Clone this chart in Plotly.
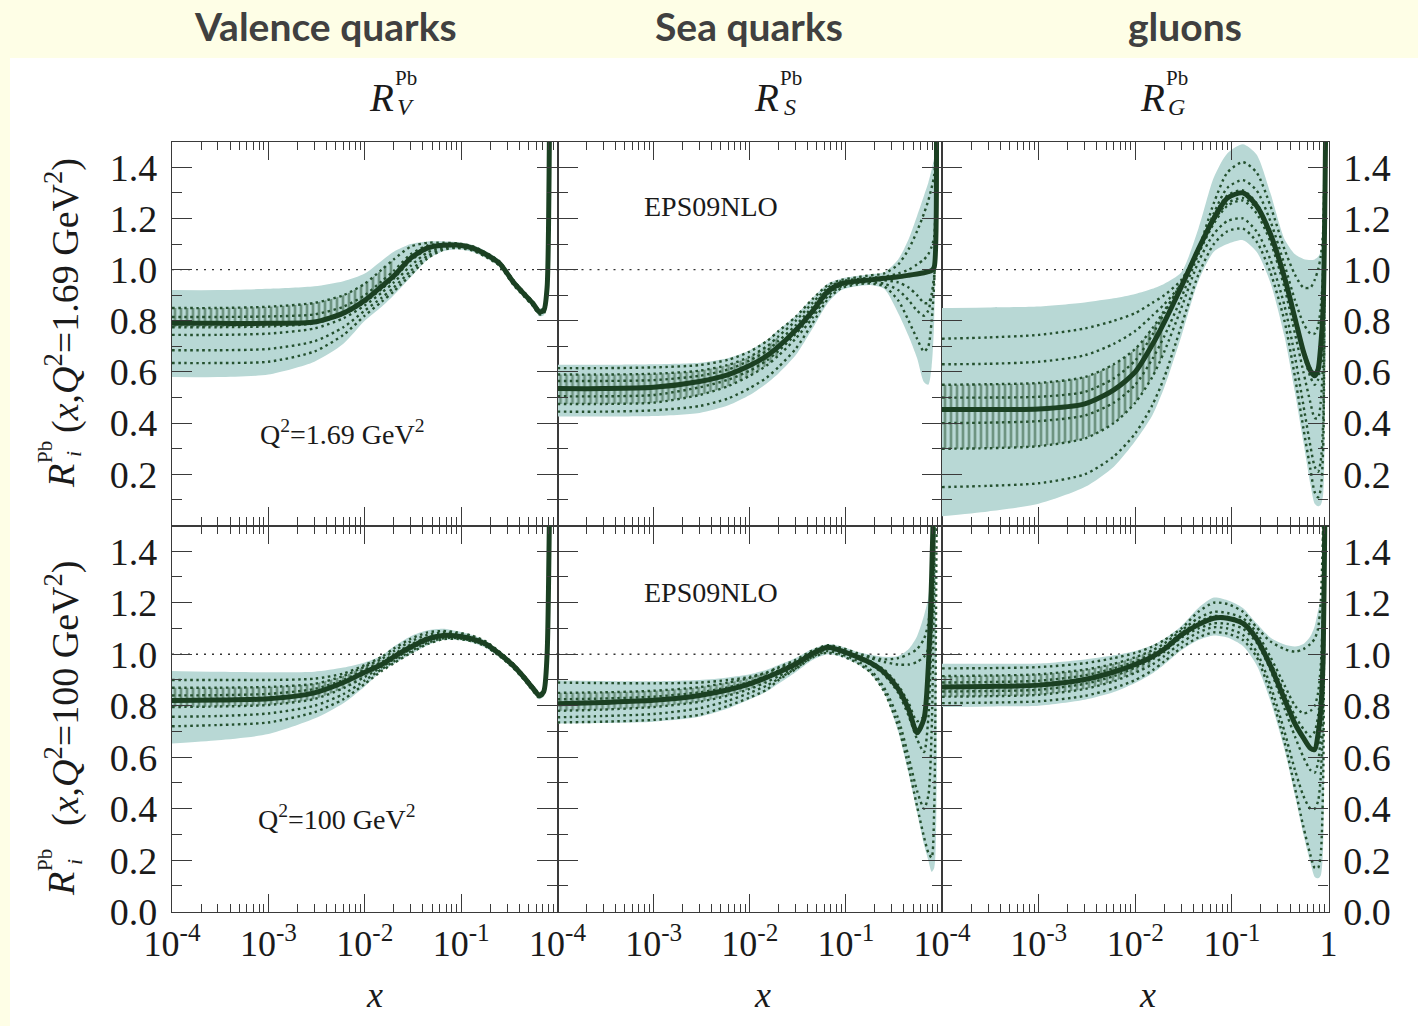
import plotly.graph_objects as go

W, H = 1418, 1026

# Sampling nodes in x (log spaced, denser toward x -> 1)
x_nodes = [1e-4, 3e-4, 1e-3, 3e-3, 6e-3, 0.01, 0.015, 0.02, 0.03, 0.045, 0.065, 0.09,
           0.13, 0.18, 0.25, 0.35, 0.45, 0.55, 0.65, 0.72, 0.78, 0.83, 0.88, 0.92, 0.96]

# ---------------- Valence quarks, Q^2 = 1.69 GeV^2 ----------------
val_low_central = [0.79, 0.79, 0.79, 0.795, 0.83, 0.88, 0.935, 0.975, 1.045, 1.085, 1.095, 1.096,
                   1.085, 1.06, 1.025, 0.95, 0.905, 0.87, 0.835, 0.84, 0.93, 1.6, 2, 2, 2]
val_low_upper = [0.92, 0.92, 0.925, 0.935, 0.955, 0.985, 1.035, 1.07, 1.10, 1.11, 1.11, 1.108,
                 1.097, 1.073, 1.037, 0.965, 0.915, 0.88, 0.848, 0.855, 0.96, 1.6, 2, 2, 2]
val_low_lower = [0.58, 0.58, 0.59, 0.64, 0.71, 0.80, 0.855, 0.90, 0.97, 1.04, 1.072, 1.08,
                 1.07, 1.045, 1.01, 0.935, 0.89, 0.855, 0.818, 0.822, 0.89, 1.6, 2, 2, 2]
val_low_sets = [
    [0.635, 0.635, 0.64, 0.68, 0.745, 0.82, 0.875, 0.915, 0.98, 1.045, 1.077, 1.085, 1.075, 1.05, 1.015, 0.94, 0.895, 0.86, 0.825, 0.828, 0.9, 1.6, 2, 2, 2],
    [0.685, 0.685, 0.69, 0.72, 0.775, 0.84, 0.89, 0.93, 0.995, 1.055, 1.082, 1.088, 1.078, 1.053, 1.018, 0.943, 0.898, 0.863, 0.828, 0.832, 0.91, 1.6, 2, 2, 2],
    [0.745, 0.745, 0.75, 0.77, 0.81, 0.86, 0.91, 0.95, 1.015, 1.068, 1.088, 1.092, 1.081, 1.056, 1.021, 0.946, 0.901, 0.866, 0.831, 0.836, 0.92, 1.6, 2, 2, 2],
    [0.775, 0.775, 0.778, 0.79, 0.825, 0.872, 0.925, 0.965, 1.035, 1.08, 1.093, 1.095, 1.084, 1.059, 1.024, 0.949, 0.904, 0.869, 0.834, 0.839, 0.93, 1.6, 2, 2, 2],
    [0.815, 0.815, 0.817, 0.825, 0.855, 0.9, 0.955, 0.995, 1.06, 1.095, 1.1, 1.099, 1.088, 1.063, 1.028, 0.953, 0.908, 0.873, 0.838, 0.843, 0.94, 1.6, 2, 2, 2],
    [0.85, 0.85, 0.855, 0.87, 0.9, 0.945, 1.0, 1.04, 1.09, 1.105, 1.105, 1.103, 1.092, 1.067, 1.032, 0.958, 0.912, 0.877, 0.842, 0.848, 0.95, 1.6, 2, 2, 2],
]

# ---------------- Sea quarks, Q^2 = 1.69 GeV^2 ----------------
sea_low_central = [0.535, 0.535, 0.54, 0.563, 0.59, 0.625, 0.663, 0.70, 0.763, 0.838, 0.915, 0.945,
                   0.955, 0.96, 0.966, 0.972, 0.978, 0.983, 0.988, 0.992, 0.997, 1.01, 1.6, 2, 2]
sea_low_upper = [0.628, 0.628, 0.63, 0.636, 0.655, 0.685, 0.725, 0.765, 0.82, 0.89, 0.945, 0.965,
                 0.975, 0.982, 0.99, 1.04, 1.12, 1.21, 1.29, 1.34, 1.39, 1.44, 1.6, 2, 2]
sea_low_lower = [0.426, 0.426, 0.428, 0.44, 0.47, 0.51, 0.555, 0.595, 0.665, 0.77, 0.87, 0.92,
                 0.935, 0.94, 0.925, 0.83, 0.74, 0.655, 0.56, 0.55, 0.62, 0.8, 1.6, 2, 2]
sea_low_sets = [
    [0.615, 0.615, 0.618, 0.627, 0.648, 0.68, 0.72, 0.76, 0.815, 0.885, 0.94, 0.96, 0.97, 0.978, 0.985, 1.02, 1.08, 1.15, 1.22, 1.27, 1.32, 1.37, 1.6, 2, 2],
    [0.59, 0.59, 0.593, 0.605, 0.628, 0.66, 0.70, 0.74, 0.80, 0.87, 0.93, 0.955, 0.963, 0.968, 0.972, 0.985, 1.0, 1.02, 1.04, 1.06, 1.09, 1.13, 1.6, 2, 2],
    [0.565, 0.565, 0.568, 0.585, 0.61, 0.645, 0.683, 0.722, 0.782, 0.855, 0.922, 0.95, 0.958, 0.962, 0.968, 0.974, 0.98, 0.985, 0.99, 0.994, 0.999, 1.01, 1.6, 2, 2],
    [0.505, 0.505, 0.51, 0.54, 0.57, 0.605, 0.645, 0.683, 0.748, 0.825, 0.905, 0.94, 0.952, 0.957, 0.958, 0.95, 0.93, 0.9, 0.87, 0.87, 0.9, 0.97, 1.6, 2, 2],
    [0.475, 0.475, 0.48, 0.51, 0.545, 0.585, 0.625, 0.665, 0.73, 0.812, 0.897, 0.935, 0.948, 0.952, 0.945, 0.92, 0.88, 0.84, 0.82, 0.84, 0.9, 0.98, 1.6, 2, 2],
    [0.445, 0.445, 0.45, 0.467, 0.497, 0.537, 0.578, 0.62, 0.69, 0.79, 0.885, 0.928, 0.942, 0.946, 0.935, 0.88, 0.8, 0.73, 0.68, 0.7, 0.8, 0.95, 1.6, 2, 2],
]

# ---------------- Gluons, Q^2 = 1.69 GeV^2 ----------------
glu_low_central = [0.453, 0.453, 0.455, 0.475, 0.53, 0.60, 0.706, 0.795, 0.933, 1.08, 1.2, 1.28,
                   1.30, 1.25, 1.14, 0.97, 0.81, 0.68, 0.605, 0.585, 0.61, 0.70, 0.85, 1.3, 2]
glu_low_upper = [0.85, 0.852, 0.856, 0.872, 0.888, 0.905, 0.925, 0.945, 0.99, 1.16, 1.36, 1.455,
                 1.49, 1.45, 1.3, 1.12, 1.06, 1.042, 1.038, 1.04, 1.05, 1.07, 1.2, 1.6, 2]
glu_low_lower = [0.036, 0.055, 0.085, 0.15, 0.23, 0.33, 0.43, 0.54, 0.74, 0.955, 1.07, 1.1,
                 1.115, 1.07, 0.95, 0.74, 0.52, 0.325, 0.16, 0.085, 0.075, 0.08, 0.12, 0.5, 2]
glu_low_sets = [
    [0.73, 0.735, 0.745, 0.77, 0.8, 0.83, 0.87, 0.9, 0.96, 1.08, 1.26, 1.38, 1.42, 1.38, 1.25, 1.08, 0.98, 0.93, 0.93, 0.96, 1.0, 1.05, 1.15, 1.6, 2],
    [0.63, 0.632, 0.64, 0.665, 0.71, 0.76, 0.82, 0.865, 0.945, 1.07, 1.22, 1.32, 1.35, 1.31, 1.19, 1.02, 0.88, 0.79, 0.75, 0.75, 0.78, 0.85, 1.0, 1.6, 2],
    [0.55, 0.552, 0.557, 0.58, 0.63, 0.69, 0.77, 0.84, 0.94, 1.075, 1.19, 1.26, 1.28, 1.24, 1.13, 0.96, 0.8, 0.67, 0.58, 0.55, 0.57, 0.65, 0.8, 1.5, 2],
    [0.5, 0.5, 0.503, 0.522, 0.575, 0.645, 0.745, 0.83, 0.95, 1.085, 1.21, 1.29, 1.31, 1.26, 1.15, 0.98, 0.82, 0.69, 0.615, 0.595, 0.62, 0.71, 0.86, 1.3, 2],
    [0.4, 0.402, 0.408, 0.43, 0.48, 0.55, 0.65, 0.74, 0.89, 1.06, 1.18, 1.25, 1.27, 1.22, 1.11, 0.93, 0.75, 0.6, 0.48, 0.42, 0.42, 0.48, 0.65, 1.4, 2],
    [0.3, 0.302, 0.31, 0.34, 0.4, 0.48, 0.58, 0.68, 0.85, 1.03, 1.14, 1.19, 1.2, 1.15, 1.04, 0.86, 0.66, 0.47, 0.31, 0.23, 0.21, 0.25, 0.4, 1.3, 2],
    [0.15, 0.155, 0.165, 0.2, 0.27, 0.36, 0.47, 0.58, 0.78, 0.98, 1.1, 1.15, 1.16, 1.11, 0.99, 0.8, 0.58, 0.38, 0.22, 0.13, 0.11, 0.14, 0.3, 1.2, 2],
]

# ---------------- Valence quarks, Q^2 = 100 GeV^2 ----------------
val_high_central = [0.82, 0.822, 0.827, 0.85, 0.89, 0.93, 0.96, 0.99, 1.028, 1.06, 1.073, 1.071,
                    1.06, 1.04, 1.002, 0.955, 0.91, 0.87, 0.84, 0.855, 1.0, 1.6, 2, 2, 2]
val_high_upper = [0.935, 0.932, 0.93, 0.932, 0.948, 0.968, 0.995, 1.03, 1.07, 1.093, 1.099, 1.09,
                  1.075, 1.053, 1.013, 0.965, 0.92, 0.88, 0.85, 0.866, 1.01, 1.6, 2, 2, 2]
val_high_lower = [0.653, 0.666, 0.69, 0.75, 0.81, 0.875, 0.935, 0.962, 1.0, 1.035, 1.055, 1.056,
                  1.045, 1.025, 0.988, 0.94, 0.895, 0.855, 0.825, 0.84, 0.98, 1.6, 2, 2, 2]
val_high_sets = [
    [0.72, 0.725, 0.735, 0.775, 0.825, 0.885, 0.935, 0.965, 1.005, 1.04, 1.058, 1.06, 1.05, 1.03, 0.993, 0.945, 0.9, 0.86, 0.83, 0.845, 0.99, 1.6, 2, 2, 2],
    [0.757, 0.76, 0.77, 0.8, 0.845, 0.898, 0.942, 0.972, 1.012, 1.045, 1.062, 1.063, 1.053, 1.034, 0.996, 0.948, 0.903, 0.863, 0.833, 0.848, 0.99, 1.6, 2, 2, 2],
    [0.795, 0.797, 0.803, 0.826, 0.868, 0.912, 0.95, 0.98, 1.02, 1.052, 1.067, 1.067, 1.057, 1.037, 0.999, 0.951, 0.906, 0.866, 0.836, 0.851, 0.995, 1.6, 2, 2, 2],
    [0.84, 0.841, 0.846, 0.865, 0.9, 0.94, 0.97, 1.0, 1.038, 1.065, 1.075, 1.073, 1.062, 1.042, 1.004, 0.956, 0.911, 0.871, 0.841, 0.856, 1.0, 1.6, 2, 2, 2],
    [0.87, 0.87, 0.873, 0.885, 0.915, 0.952, 0.982, 1.012, 1.05, 1.075, 1.085, 1.08, 1.068, 1.047, 1.008, 0.96, 0.915, 0.875, 0.845, 0.86, 1.0, 1.6, 2, 2, 2],
    [0.9, 0.9, 0.9, 0.905, 0.925, 0.958, 0.99, 1.022, 1.06, 1.085, 1.09, 1.085, 1.072, 1.05, 1.01, 0.962, 0.917, 0.877, 0.847, 0.862, 1.005, 1.6, 2, 2, 2],
]

# ---------------- Sea quarks, Q^2 = 100 GeV^2 ----------------
sea_high_central = [0.808, 0.813, 0.821, 0.84, 0.862, 0.885, 0.91, 0.93, 0.962, 1.003, 1.027, 1.013,
                    0.99, 0.967, 0.93, 0.865, 0.785, 0.695, 0.75, 0.95, 1.3, 1.7, 2, 2, 2]
sea_high_upper = [0.899, 0.896, 0.895, 0.9, 0.91, 0.922, 0.94, 0.958, 0.985, 1.02, 1.04, 1.03,
                  1.01, 0.998, 0.99, 0.993, 1.02, 1.07, 1.15, 1.22, 1.35, 1.5, 2, 2, 2]
sea_high_lower = [0.731, 0.733, 0.738, 0.757, 0.79, 0.825, 0.855, 0.886, 0.93, 0.978, 1.0, 0.99,
                  0.963, 0.925, 0.85, 0.7, 0.535, 0.384, 0.26, 0.2, 0.155, 0.17, 0.5, 2, 2]
sea_high_sets = [
    [0.89, 0.888, 0.887, 0.89, 0.9, 0.912, 0.93, 0.95, 0.978, 1.015, 1.035, 1.025, 1.005, 0.99, 0.98, 0.985, 1.0, 1.02, 1.06, 1.12, 1.25, 1.5, 2, 2, 2],
    [0.85, 0.852, 0.858, 0.872, 0.89, 0.908, 0.928, 0.946, 0.972, 1.01, 1.03, 1.02, 1.0, 0.985, 0.97, 0.96, 0.96, 0.97, 0.99, 1.02, 1.1, 1.4, 2, 2, 2],
    [0.825, 0.828, 0.835, 0.852, 0.872, 0.893, 0.917, 0.937, 0.967, 1.007, 1.03, 1.017, 0.995, 0.972, 0.94, 0.88, 0.81, 0.74, 0.76, 0.95, 1.3, 1.7, 2, 2, 2],
    [0.78, 0.785, 0.795, 0.815, 0.84, 0.865, 0.892, 0.915, 0.95, 0.995, 1.02, 1.008, 0.985, 0.96, 0.92, 0.85, 0.76, 0.67, 0.62, 0.75, 1.1, 1.6, 2, 2, 2],
    [0.755, 0.76, 0.768, 0.79, 0.82, 0.85, 0.878, 0.905, 0.945, 0.99, 1.012, 1.0, 0.975, 0.94, 0.87, 0.75, 0.6, 0.47, 0.4, 0.45, 0.7, 1.3, 2, 2, 2],
    [0.735, 0.738, 0.745, 0.765, 0.8, 0.832, 0.862, 0.9, 0.942, 0.988, 1.006, 0.994, 0.967, 0.93, 0.855, 0.72, 0.56, 0.41, 0.29, 0.23, 0.21, 0.4, 1.5, 2, 2],
]

# ---------------- Gluons, Q^2 = 100 GeV^2 ----------------
glu_high_central = [0.873, 0.875, 0.88, 0.902, 0.931, 0.96, 0.99, 1.02, 1.075, 1.115, 1.14, 1.14,
                    1.12, 1.06, 0.956, 0.826, 0.73, 0.675, 0.635, 0.63, 0.69, 0.78, 0.98, 1.6, 2]
glu_high_upper = [0.963, 0.963, 0.964, 0.98, 0.996, 1.013, 1.035, 1.06, 1.11, 1.18, 1.22, 1.21,
                  1.18, 1.12, 1.065, 1.038, 1.03, 1.04, 1.07, 1.11, 1.17, 1.21, 1.4, 2, 2]
glu_high_lower = [0.795, 0.797, 0.8, 0.823, 0.853, 0.888, 0.925, 0.96, 1.015, 1.055, 1.073, 1.065,
                  1.032, 0.958, 0.82, 0.63, 0.45, 0.30, 0.19, 0.135, 0.13, 0.14, 0.25, 1.6, 2]
glu_high_sets = [
    [0.945, 0.946, 0.95, 0.965, 0.985, 1.005, 1.03, 1.055, 1.1, 1.165, 1.2, 1.195, 1.165, 1.105, 1.05, 1.02, 1.01, 1.02, 1.04, 1.06, 1.1, 1.2, 1.5, 2, 2],
    [0.915, 0.917, 0.922, 0.94, 0.963, 0.988, 1.015, 1.042, 1.092, 1.14, 1.165, 1.16, 1.14, 1.085, 0.99, 0.88, 0.8, 0.77, 0.78, 0.8, 0.85, 0.95, 1.2, 2, 2],
    [0.89, 0.892, 0.897, 0.918, 0.945, 0.972, 1.002, 1.03, 1.082, 1.125, 1.148, 1.145, 1.128, 1.07, 0.97, 0.85, 0.76, 0.71, 0.68, 0.7, 0.76, 0.86, 1.1, 1.9, 2],
    [0.855, 0.857, 0.862, 0.885, 0.915, 0.948, 0.98, 1.01, 1.065, 1.1, 1.12, 1.118, 1.1, 1.045, 0.94, 0.79, 0.68, 0.6, 0.55, 0.54, 0.58, 0.68, 0.9, 1.8, 2],
    [0.835, 0.837, 0.842, 0.865, 0.895, 0.928, 0.96, 0.993, 1.045, 1.085, 1.105, 1.1, 1.075, 1.01, 0.88, 0.7, 0.55, 0.45, 0.4, 0.4, 0.43, 0.52, 0.8, 1.8, 2],
    [0.81, 0.812, 0.817, 0.838, 0.868, 0.9, 0.937, 0.972, 1.025, 1.065, 1.085, 1.08, 1.055, 0.99, 0.85, 0.66, 0.48, 0.33, 0.22, 0.17, 0.17, 0.22, 0.5, 1.8, 2],
]

# Axis ticks and labels
x_major = [1e-4, 1e-3, 1e-2, 1e-1, 1]
x_labels_inner = ["10<sup>-4</sup>", "10<sup>-3</sup>", "10<sup>-2</sup>", "10<sup>-1</sup>", ""]
x_labels_last = ["10<sup>-4</sup>", "10<sup>-3</sup>", "10<sup>-2</sup>", "10<sup>-1</sup>", "1"]
x_minor = [m * 10.0 ** e for e in range(-4, 0) for m in range(2, 10)]
y_major = [0.0, 0.2, 0.4, 0.6, 0.8, 1.0, 1.2, 1.4]
y_labels_top = ["", "0.2", "0.4", "0.6", "0.8", "1.0", "1.2", "1.4"]
y_labels_bottom = ["0.0", "0.2", "0.4", "0.6", "0.8", "1.0", "1.2", "1.4"]
y_minor = [0.1, 0.3, 0.5, 0.7, 0.9, 1.1, 1.3]

# (central, band upper, band lower, error sets,
#  (lower set, upper set, number of small-x nodes) of the dense cluster of sets)
panels = [
    (val_low_central, val_low_upper, val_low_lower, val_low_sets, (3, 5, 8)),
    (sea_low_central, sea_low_upper, sea_low_lower, sea_low_sets, (4, 1, 8)),
    (glu_low_central, glu_low_upper, glu_low_lower, glu_low_sets, (5, 2, 8)),
    (val_high_central, val_high_upper, val_high_lower, val_high_sets, (2, 4, 7)),
    (sea_high_central, sea_high_upper, sea_high_lower, sea_high_sets, (3, 1, 7)),
    (glu_high_central, glu_high_upper, glu_high_lower, glu_high_sets, (4, 1, 7)),
]

BAND = "#b8d8d5"
CENTRAL = "#1b4022"
SETLINE = "#24502e"
FRAME = "#3a3a3a"
SERIF = "Liberation Serif"

col_dom = [[172 / W, 557.5 / W], [557.5 / W, 942 / W], [942 / W, 1328.5 / W]]
row_dom = [[1 - 525.5 / H, 1 - 141.7 / H], [1 - 911.7 / H, 1 - 525.5 / H]]

fig = go.Figure()
layout_axes = {}
shapes = [dict(type="rect", xref="paper", yref="paper", x0=10 / W, x1=1, y0=0, y1=1 - 58 / H,
               fillcolor="white", line=dict(width=0), layer="below")]

for i, (central, upper, lower, sets, cluster) in enumerate(panels):
    n = i + 1
    r, c = divmod(i, 3)
    xa = "x" if n == 1 else f"x{n}"
    ya = "y" if n == 1 else f"y{n}"
    spl = dict(shape="spline", smoothing=0.7)
    common = dict(xaxis=xa, yaxis=ya, mode="lines", hoverinfo="skip", showlegend=False)

    # uncertainty band
    fig.add_trace(go.Scatter(x=x_nodes, y=lower, line=dict(width=0, **spl), **common))
    fig.add_trace(go.Scatter(x=x_nodes, y=upper, line=dict(width=0, **spl), fill="tonexty",
                             fillcolor=BAND, **common))
    # dense cluster of error sets at small x: vertical hatching between two bounding sets
    lo_i, hi_i, k = cluster
    fig.add_trace(go.Scatter(x=x_nodes[:k], y=sets[lo_i][:k], line=dict(width=0, **spl), **common))
    fig.add_trace(go.Scatter(x=x_nodes[:k], y=sets[hi_i][:k], line=dict(width=0, **spl),
                             fill="tonexty", fillcolor="rgba(0,0,0,0)",
                             fillpattern=dict(shape="|", fgcolor=SETLINE, bgcolor="rgba(0,0,0,0)",
                                              size=6, solidity=0.45, fillmode="overlay"),
                             **common))
    # individual error sets
    for s in sets:
        fig.add_trace(go.Scatter(x=x_nodes, y=s,
                                 line=dict(color=SETLINE, width=2.4, dash="2.5px,3.5px", **spl),
                                 **common))
    # central fit
    fig.add_trace(go.Scatter(x=x_nodes, y=central, line=dict(color=CENTRAL, width=5, **spl), **common))

    xkey = "xaxis" if n == 1 else f"xaxis{n}"
    ykey = "yaxis" if n == 1 else f"yaxis{n}"
    layout_axes[xkey] = dict(
        domain=col_dom[c], anchor=ya, type="log", range=[-4, 0],
        showline=True, linecolor=FRAME, linewidth=1.1, mirror="ticks",
        ticks="inside", ticklen=18, tickwidth=1.1, tickcolor=FRAME,
        tickmode="array", tickvals=x_major,
        ticktext=x_labels_last if c == 2 else x_labels_inner,
        showticklabels=(r == 1),
        tickfont=dict(family=SERIF, size=36, color="#1a1a1a"),
        minor=dict(tickmode="array", tickvals=x_minor, ticks="inside", ticklen=8,
                   tickwidth=1, tickcolor=FRAME),
        showgrid=False, zeroline=False, fixedrange=True,
    )
    layout_axes[ykey] = dict(
        domain=row_dom[r], anchor=xa, range=[0, 1.5],
        side="right" if c == 2 else "left",
        showline=True, linecolor=FRAME, linewidth=1.1, mirror="ticks",
        ticks="inside", ticklen=20, tickwidth=1.1, tickcolor=FRAME,
        tickmode="array", tickvals=y_major,
        ticktext=y_labels_top if r == 0 else y_labels_bottom,
        showticklabels=(c != 1), ticklabelstandoff=6,
        tickfont=dict(family=SERIF, size=38, color="#1a1a1a"),
        minor=dict(tickmode="array", tickvals=y_minor, ticks="inside", ticklen=10,
                   tickwidth=1, tickcolor=FRAME),
        showgrid=False, zeroline=False, fixedrange=True,
    )
    shapes.append(dict(type="line", xref=f"{xa} domain", yref=ya, x0=0, x1=1, y0=1, y1=1,
                       line=dict(color="#333333", width=1.3, dash="2px,6px"), layer="below"))


def px(xp, yp):
    return xp / W, 1 - yp / H


annotations = []


def note(text, xp, yp, size, family=SERIF, color="#1a1a1a", angle=0):
    x, y = px(xp, yp)
    annotations.append(dict(text=text, x=x, y=y, xref="paper", yref="paper", showarrow=False,
                            font=dict(family=family, size=size, color=color), textangle=angle,
                            xanchor="center", yanchor="middle"))


# Column headers
for label, cx in [("Valence quarks", 325), ("Sea quarks", 749), ("gluons", 1185)]:
    note(f"<b>{label}</b>", cx, 26, 39, family="Lato", color="#404040")

# Panel titles R_V^Pb, R_S^Pb, R_G^Pb
for sub, cx in [("V", 381), ("S", 766), ("G", 1152)]:
    note("<i>R</i>", cx, 97, 39)
    note("Pb", cx + 25, 78, 21)
    note(f"<i>{sub}</i>", cx + 24, 107, 24)

# Rotated y-axis titles
for q2, r_y, rest_y in [("1.69", 476, 296), ("100", 884, 694)]:
    note("<i>R</i>", 61, r_y, 38, angle=-90)
    note("Pb", 45, r_y - 24, 21, angle=-90)
    note("<i>i</i>", 74, r_y - 22, 22, angle=-90)
    note(f"(<i>x</i>,<i>Q</i><sup>2</sup>={q2} GeV<sup>2</sup>)", 62, rest_y, 38, angle=-90)

# x-axis titles
for cx in [375, 762, 1147]:
    note("<i>x</i>", cx, 995, 36)

# In-panel labels
note("EPS09NLO", 711, 207, 28)
note("EPS09NLO", 711, 592, 28)
note("Q<sup>2</sup>=1.69 GeV<sup>2</sup>", 342, 432, 28)
note("Q<sup>2</sup>=100 GeV<sup>2</sup>", 337, 817, 28)

fig.update_layout(
    width=W, height=H, margin=dict(l=0, r=0, t=0, b=0, autoexpand=False),
    paper_bgcolor="#fefee6", plot_bgcolor="rgba(0,0,0,0)",
    showlegend=False, shapes=shapes, annotations=annotations,
    **layout_axes,
)

fig.write_html("out.html")
